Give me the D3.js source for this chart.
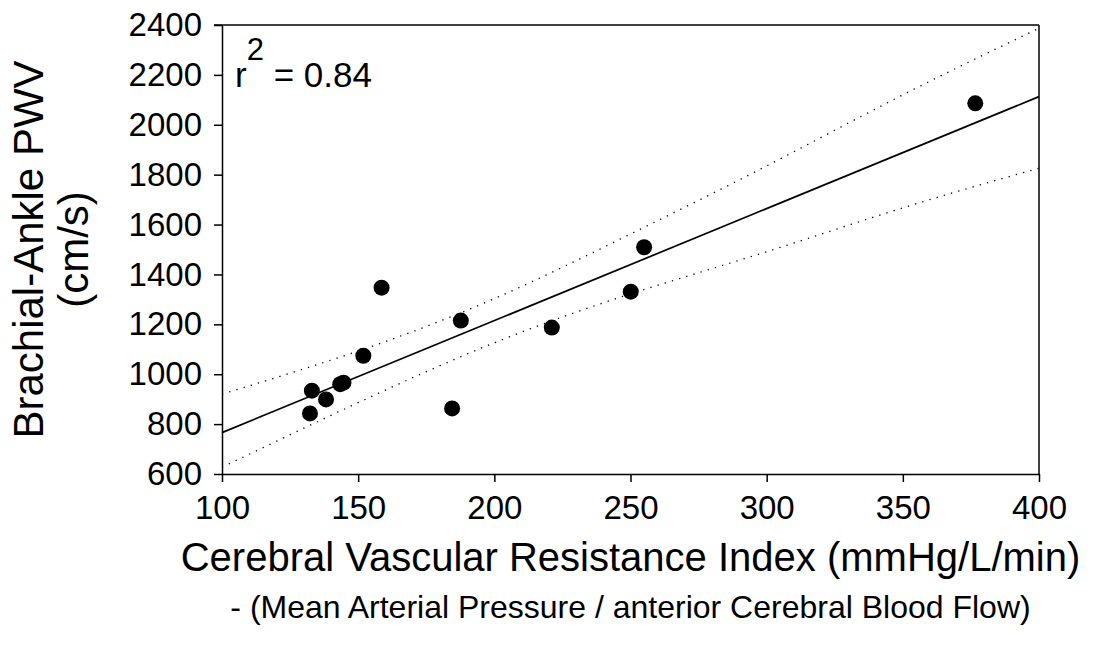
<!DOCTYPE html>
<html lang="en">
<head>
    <meta charset="UTF-8">
    <title>CVRI vs baPWV</title>
    <script src="https://cdn.jsdelivr.net/npm/d3@7"></script>
    <style>
        body { margin: 0; background: #fff; }
        text { font-family: "Liberation Sans", Arial, sans-serif; fill: #000; }
        .axis path, .axis line { stroke: #000; stroke-width: 1.5px; }
        .axis text { font-size: 33px; }
    </style>
</head>
<body>
<script>
    // measured points
    var cvri = [132.3, 133.0, 138.2, 143.4, 144.6, 151.9, 158.6, 184.5, 187.7, 221.1, 250.1, 255.0, 376.6];
    var pwv  = [843, 934, 899, 960, 966, 1074, 1347, 863, 1215, 1187, 1331, 1509, 2086];

    // fitted line
    var fitX = [100, 400];
    var fitY = [766, 2113];

    // 95% confidence band
    var bandX     = [100, 150, 200, 250, 300, 350, 400];
    var bandUpper = [920, 1093, 1303, 1562, 1835, 2120, 2387];
    var bandLower = [627, 886, 1126, 1322, 1491, 1667, 1826];

    var xTicks = [100, 150, 200, 250, 300, 350, 400];
    var yTicks = [600, 800, 1000, 1200, 1400, 1600, 1800, 2000, 2200, 2400];

    var width = 1094;
    var height = 651;
    var margin = {top: 25, right: 55, bottom: 177, left: 222};

    var svg = d3.select("body")
            .append("svg")
            .attr("width", width)
            .attr("height", height);

    var x = d3.scaleLinear().domain([100, 400]).range([margin.left, width - margin.right]);
    var y = d3.scaleLinear().domain([600, 2400]).range([height - margin.bottom, margin.top]);

    // frame top + right
    svg.append("line")
            .attr("x1", x(100) - 8).attr("x2", x(400))
            .attr("y1", y(2400)).attr("y2", y(2400))
            .attr("stroke", "#000").attr("stroke-width", 1.5);
    svg.append("line")
            .attr("x1", x(400)).attr("x2", x(400))
            .attr("y1", y(2400)).attr("y2", y(600))
            .attr("stroke", "#000").attr("stroke-width", 1.5);

    svg.append("g")
            .attr("class", "axis")
            .attr("transform", "translate(0," + y(600) + ")")
            .call(d3.axisBottom(x).tickValues(xTicks).tickSize(8).tickSizeOuter(0).tickPadding(14).tickFormat(d3.format("d")));

    svg.append("g")
            .attr("class", "axis")
            .attr("transform", "translate(" + x(100) + ",0)")
            .call(d3.axisLeft(y).tickValues(yTicks).tickSize(8).tickSizeOuter(0).tickPadding(12).tickFormat(d3.format("d")));

    // band
    var bandLine = function (vals) {
        return d3.line()
                .x(function (d, i) { return x(bandX[i]); })
                .y(function (d) { return y(d); })
                .curve(d3.curveNatural)(vals);
    };
    [bandUpper, bandLower].forEach(function (vals) {
        svg.append("path")
                .attr("d", bandLine(vals))
                .attr("fill", "none")
                .attr("stroke", "#000")
                .attr("stroke-width", 1.3)
                .attr("stroke-dasharray", "1.3,6.2");
    });

    // regression line
    svg.append("line")
            .attr("x1", x(fitX[0])).attr("y1", y(fitY[0]))
            .attr("x2", x(fitX[1])).attr("y2", y(fitY[1]))
            .attr("stroke", "#000")
            .attr("stroke-width", 1.7);

    svg.append("g")
            .selectAll("circle")
            .data(cvri)
            .enter()
            .append("circle")
            .attr("cx", function (d) { return x(d); })
            .attr("cy", function (d, i) { return y(pwv[i]); })
            .attr("r", 8)
            .attr("fill", "#000");

    // r^2 label
    var r2 = svg.append("text")
            .attr("x", x(100) + 13)
            .attr("y", 87)
            .style("font-size", "35px");
    r2.append("tspan").text("r");
    r2.append("tspan").attr("dy", -27).style("font-size", "31px").text("2");
    r2.append("tspan").attr("dy", 27).text(" = 0.84");

    // axis titles
    svg.append("text")
            .attr("x", (x(100) + x(400)) / 2)
            .attr("y", 571)
            .attr("text-anchor", "middle")
            .style("font-size", "40px")
            .text("Cerebral Vascular Resistance Index (mmHg/L/min)");

    svg.append("text")
            .attr("x", (x(100) + x(400)) / 2)
            .attr("y", 618)
            .attr("text-anchor", "middle")
            .style("font-size", "32px")
            .text("- (Mean Arterial Pressure / anterior Cerebral Blood Flow)");

    var yt = svg.append("text")
            .attr("transform", "translate(43," + (y(600) + y(2400)) / 2 + ") rotate(-90)")
            .attr("text-anchor", "middle")
            .style("font-size", "42px");
    yt.append("tspan").attr("x", 0).attr("dy", 0).text("Brachial-Ankle PWV");
    yt.append("tspan").attr("x", 0).attr("dy", 45).text("(cm/s)");
</script>
</body>
</html>
